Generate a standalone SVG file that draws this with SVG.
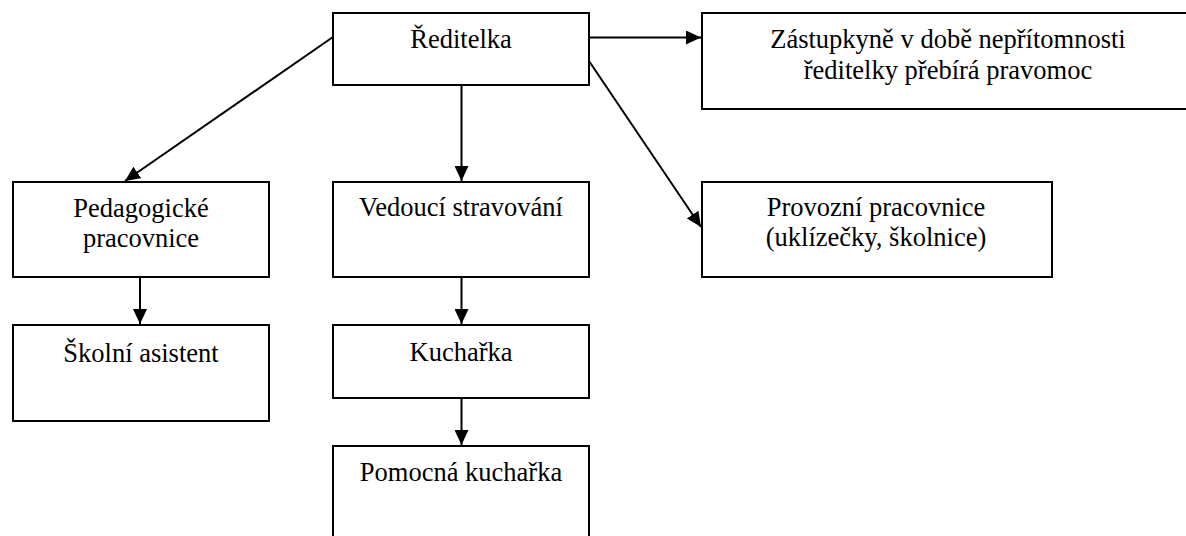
<svg xmlns="http://www.w3.org/2000/svg" width="1186" height="536" viewBox="0 0 1186 536">
<style>
.box{fill:#fff;stroke:#000;stroke-width:2}
.t{font-family:'Liberation Serif','DejaVu Serif',serif;font-size:26.5px;fill:#000;text-anchor:middle}
.c{stroke:#000;stroke-width:2;fill:none;marker-end:url(#ah)}
</style>
<defs>
<marker id="ah" markerUnits="userSpaceOnUse" markerWidth="16" markerHeight="14" refX="15" refY="7" orient="auto" viewBox="0 0 16 14">
<path d="M0,0 L15,7 L0,14 z" fill="#000"/>
</marker>
</defs>
<rect width="1186" height="536" fill="#fff"/>
<g id="n-reditelka">
<rect class="box" x="333" y="13" width="256" height="72"/>
<text class="t" font-family="Liberation Serif, serif" x="461" y="48">Ředitelka</text>
</g>
<g id="n-zastupkyne">
<rect class="box" x="702" y="13" width="500" height="96"/>
<text class="t" font-family="Liberation Serif, serif" x="948" y="48">Zástupkyně v době nepřítomnosti</text>
<text class="t" font-family="Liberation Serif, serif" x="948" y="78.5">ředitelky přebírá pravomoc</text>
</g>
<g id="n-pedagogicke">
<rect class="box" x="13" y="182" width="256" height="95"/>
<text class="t" font-family="Liberation Serif, serif" x="141" y="216.5">Pedagogické</text>
<text class="t" font-family="Liberation Serif, serif" x="141" y="247">pracovnice</text>
</g>
<g id="n-asistent">
<rect class="box" x="13" y="325" width="256" height="96"/>
<text class="t" font-family="Liberation Serif, serif" x="141" y="361.5">Školní asistent</text>
</g>
<g id="n-vedouci">
<rect class="box" x="333" y="182" width="256" height="95"/>
<text class="t" font-family="Liberation Serif, serif" x="461" y="216">Vedoucí stravování</text>
</g>
<g id="n-kucharka">
<rect class="box" x="333" y="325" width="256" height="73"/>
<text class="t" font-family="Liberation Serif, serif" x="461" y="360.5">Kuchařka</text>
</g>
<g id="n-pomocna">
<rect class="box" x="333" y="446" width="256" height="120"/>
<text class="t" font-family="Liberation Serif, serif" x="461" y="480.5">Pomocná kuchařka</text>
</g>
<g id="n-provozni">
<rect class="box" x="702" y="182" width="350" height="95"/>
<text class="t" font-family="Liberation Serif, serif" x="876" y="215.5">Provozní pracovnice</text>
<text class="t" font-family="Liberation Serif, serif" x="876" y="246">(uklízečky, školnice)</text>
</g>
<g id="connectors">
<line class="c" x1="333" y1="37" x2="125" y2="181"/>
<line class="c" x1="589" y1="37.5" x2="701" y2="37.5"/>
<line class="c" x1="461.5" y1="85" x2="461.5" y2="181"/>
<line class="c" x1="589" y1="61" x2="701" y2="227"/>
<line class="c" x1="140" y1="277" x2="140" y2="324"/>
<line class="c" x1="461.5" y1="277" x2="461.5" y2="324"/>
<line class="c" x1="461.5" y1="398" x2="461.5" y2="445"/>
</g>
</svg>
